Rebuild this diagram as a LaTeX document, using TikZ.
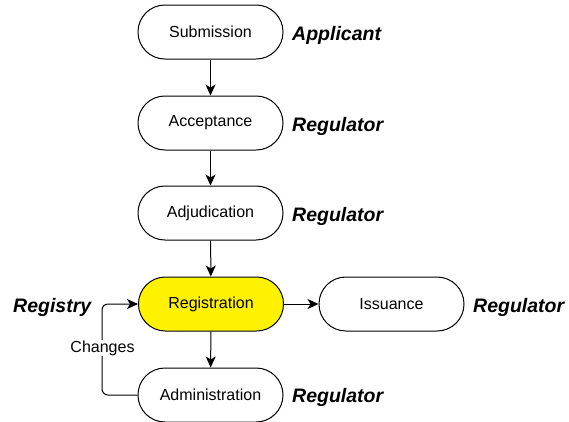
\documentclass[tikz,border=0pt]{standalone}
\usepackage{fontspec}
\setmainfont{Liberation Sans}
\usetikzlibrary{arrows.meta}

\tikzset{
  stage/.style={draw=black, line width=1pt, fill=white, rounded corners=26.9pt,
    minimum width=145pt, minimum height=54pt, inner sep=0pt,
    font=\fontsize{16}{19}\selectfont},
  role/.style={anchor=west, inner sep=0pt, font=\fontsize{19.5}{23}\selectfont\bfseries\itshape},
  flow/.style={line width=1pt, -{Stealth[length=11pt, width=10pt, inset=3pt]}}
}

\begin{document}
\begin{tikzpicture}[x=1pt,y=-1pt]
\useasboundingbox (0,0) rectangle (569,421);
% stages
\node[stage] (submission) at (210.5,32) {Submission};
\node[stage] (acceptance) at (210.5,123) {Acceptance};
\node[stage] (adjudication) at (210.5,213) {Adjudication};
\node[stage, fill=yellow] (registration) at (211,304) {Registration};
\node[stage] (administration) at (210.5,395) {Administration};
\node[stage] (issuance) at (391.5,304) {Issuance};
% roles
\node[role] (applicant) at (292,35) {Applicant};
\node[role] (reg1) at (292,126) {Regulator};
\node[role] (reg2) at (292,216) {Regulator};
\node[role] (reg3) at (473,307) {Regulator};
\node[role] (reg4) at (292,397) {Regulator};
\node[role] (registry) at (13,307) {Registry};
% flow
\draw[flow] (submission) -- (acceptance);
\draw[flow] (acceptance) -- (adjudication);
\draw[flow] (adjudication) -- (registration);
\draw[flow] (registration) -- (administration);
\draw[flow] (registration) -- (issuance);
\draw[flow, rounded corners=6pt] (administration.west) -- (102,395) -- (102,304) -- (registration.west);
\node[fill=white, inner sep=1pt, font=\fontsize{16}{19}\selectfont] (changes) at (102.5,348) {Changes};
\end{tikzpicture}
\end{document}
